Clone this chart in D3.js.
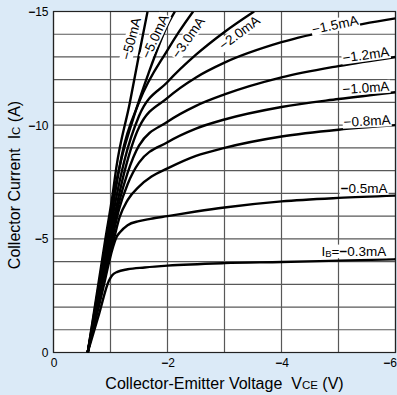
<!DOCTYPE html>
<html>
<head>
<meta charset="utf-8">
<script src="https://cdn.jsdelivr.net/npm/d3@7"></script>
<style>
  body { margin: 0; background: #dbeaf7; }
  svg { display: block; font-family: "Liberation Sans", Arial, sans-serif; }
</style>
</head>
<body>
<svg id="chart" width="397" height="395"></svg>
<script>
// IC-VCE curves, one per base current: [VCE (V), IC (A)]
const ib03 = [[-0.6,0],[-0.8,-1.7],[-0.97,-3.15],[-1.03,-3.4],[-1.12,-3.55],[-1.3,-3.66],[-1.6,-3.74],[-2,-3.82],[-3,-3.93],[-4,-3.98],[-5,-4.04],[-6,-4.1]];
const ib05 = [[-0.6,0],[-0.85,-2.6],[-1.04,-4.6],[-1.1,-5.05],[-1.17,-5.3],[-1.3,-5.6],[-1.5,-5.78],[-1.7,-5.88],[-2,-6.0],[-2.5,-6.2],[-3,-6.38],[-4,-6.65],[-5,-6.8],[-6,-6.9]];
const ib08 = [[-0.6,0],[-0.85,-3],[-1.06,-5],[-1.16,-5.95],[-1.3,-6.7],[-1.5,-7.3],[-1.72,-7.74],[-2,-8.1],[-2.5,-8.65],[-3,-9.0],[-4,-9.5],[-5,-9.8],[-6,-10.0]];
const ib10 = [[-0.6,0],[-1.03,-5],[-1.15,-6.3],[-1.3,-7.4],[-1.5,-8.35],[-2,-9.25],[-2.5,-9.85],[-3,-10.25],[-4,-10.8],[-5,-11.15],[-6,-11.45]];
const ib12 = [[-0.6,0],[-1.01,-5],[-1.15,-6.6],[-1.3,-7.9],[-1.5,-9.1],[-2,-10.15],[-2.5,-10.85],[-3,-11.35],[-4,-12.1],[-5,-12.6],[-6,-13.0]];
const ib15 = [[-0.6,0],[-0.99,-5],[-1.12,-6.6],[-1.25,-8.0],[-1.5,-9.9],[-2,-11.2],[-2.5,-12.1],[-3,-12.75],[-4,-13.65],[-5,-14.25],[-6,-14.7]];
const ib20 = [[-0.6,0],[-0.97,-5],[-1.1,-6.8],[-1.25,-8.5],[-1.5,-10.4],[-2,-11.9],[-2.5,-13.1],[-3,-14.1],[-3.52,-15]];
const ib30 = [[-0.6,0],[-0.95,-5],[-1.08,-7],[-1.2,-8.7],[-1.5,-11.0],[-2,-13.3],[-2.2,-14.1],[-2.45,-15]];
const ib50 = [[-0.6,0],[-0.93,-5],[-1.06,-7],[-1.2,-8.6],[-1.4,-10.3],[-1.67,-12.3],[-2,-14.4],[-2.13,-15]];
const ib500 = [[-0.6,0],[-0.91,-5],[-1.04,-7],[-1.1,-8.1],[-1.34,-11],[-1.5,-13.1],[-1.65,-15]];
const curves = [ib03, ib05, ib08, ib10, ib12, ib15, ib20, ib30, ib50, ib500];

// curve labels: text, anchor point [VCE, IC], rotation
const labelText = ['−50mA', '−5.0mA', '−3.0mA', '−2.0mA', '−1.5mA', '−1.2mA', '−1.0mA', '−0.8mA', '−0.5mA', 'IB=−0.3mA'];
const labelAt = [[-1.36,-13.8],[-1.78,-13.9],[-2.36,-13.85],[-3.26,-14.07],[-4.94,-14.42],[-5.48,-13.1],[-5.48,-11.65],[-5.5,-10.19],[-5.45,-7.24],[-5.27,-4.47]];
const labelAngle = [-75, -65, -55, -37, -12, -8, -4, -3, 0, 0];

const xTicks = [0, -2, -4, -6];
const yTicks = [0, -5, -10, -15];

const width = 397, height = 395;
const margin = {top: 11.5, right: 1.5, bottom: 42.5, left: 53.5};
const nb = '\u00a0';

const svg = d3.select('#chart');

const x = d3.scaleLinear().domain([0, -6]).range([margin.left, width - margin.right]);
const y = d3.scaleLinear().domain([0, -15]).range([height - margin.bottom, margin.top]);

// plot area
svg.append('rect')
  .attr('x', x(0)).attr('y', y(-15))
  .attr('width', x(-6) - x(0)).attr('height', y(0) - y(-15))
  .attr('fill', '#fff');

svg.append('clipPath').attr('id', 'plot')
  .append('rect')
  .attr('x', x(0)).attr('y', y(-15))
  .attr('width', x(-6) - x(0)).attr('height', y(0) - y(-15));

// grid
const grid = svg.append('g').attr('stroke', '#585858').attr('stroke-width', 1.2);
grid.selectAll('line.v')
  .data(x.ticks(6))
  .enter().append('line')
  .attr('class', 'v')
  .attr('x1', d => x(d)).attr('x2', d => x(d))
  .attr('y1', y(0)).attr('y2', y(-15));
grid.selectAll('line.h')
  .data(y.ticks(15))
  .enter().append('line')
  .attr('class', 'h')
  .attr('x1', x(0)).attr('x2', x(-6))
  .attr('y1', d => y(d)).attr('y2', d => y(d));

// frame
svg.append('rect')
  .attr('x', x(0)).attr('y', y(-15))
  .attr('width', x(-6) - x(0)).attr('height', y(0) - y(-15))
  .attr('fill', 'none').attr('stroke', '#222').attr('stroke-width', 1.2);

// curves
const line = d3.line()
  .x(d => x(d[0]))
  .y(d => y(d[1]))
  .curve(d3.curveMonotoneX);

svg.append('g')
  .attr('clip-path', 'url(#plot)')
  .selectAll('path')
  .data(curves)
  .enter().append('path')
  .attr('d', line)
  .attr('fill', 'none')
  .attr('stroke', '#000')
  .attr('stroke-width', 2.4)
  .attr('stroke-linejoin', 'round');

// curve labels with a white patch behind
const labels = svg.append('g')
  .selectAll('g')
  .data(labelText)
  .enter().append('g')
  .attr('transform', (d, i) => `translate(${x(labelAt[i][0])},${y(labelAt[i][1])}) rotate(${labelAngle[i]})`);

labels.each(function(d, i) {
  const g = d3.select(this);
  const t = g.append('text')
    .attr('text-anchor', 'middle')
    .attr('dy', '0.35em')
    .attr('font-size', 13.5)
    .attr('fill', '#000');
  if (d.startsWith('IB')) {
    t.append('tspan').text('I');
    t.append('tspan').attr('font-size', 9.5).attr('dy', 1.5).text('B');
    t.append('tspan').attr('dy', -1.5).text('=');
    t.append('tspan').attr('font-weight', 'bold').text('−');
    t.append('tspan').text(d.slice(4));
  } else if (d === '−0.5mA') {
    t.append('tspan').attr('font-weight', 'bold').text('−');
    t.append('tspan').text(d.slice(1));
  } else {
    t.text(d);
  }
  const b = t.node().getBBox();
  g.insert('rect', 'text')
    .attr('x', b.x - 1).attr('y', b.y + 1)
    .attr('width', b.width + 2).attr('height', b.height - 2)
    .attr('fill', '#fff');
});

// axes
function boldMinus(sel) {
  sel.selectAll('.tick text').each(function(d) {
    const t = d3.select(this);
    t.text(null);
    if (d < 0) t.append('tspan').attr('font-weight', 'bold').text('−');
    t.append('tspan').text(Math.abs(d));
  });
}

svg.append('g')
  .attr('transform', `translate(${x(0)},0)`)
  .call(d3.axisLeft(y).tickValues(yTicks).tickSize(0).tickPadding(5))
  .call(g => g.select('.domain').remove())
  .call(g => g.selectAll('text').attr('font-size', 12).attr('fill', '#000').attr('font-family', null))
  .call(boldMinus);

svg.append('g')
  .attr('transform', `translate(0,${y(0)})`)
  .call(d3.axisBottom(x).tickValues(xTicks).tickSize(0).tickPadding(6))
  .call(g => g.select('.domain').remove())
  .call(g => g.selectAll('text').attr('font-size', 12).attr('fill', '#000').attr('font-family', null))
  .call(boldMinus)
  .call(g => g.selectAll('.tick').filter(d => d === -6).select('text').attr('text-anchor', 'end').attr('x', 1));

// axis titles
const xt = svg.append('text')
  .attr('x', (x(0) + x(-6)) / 2).attr('y', 389)
  .attr('text-anchor', 'middle')
  .attr('font-size', 16);
xt.append('tspan').text('Collector-Emitter Voltage' + nb + nb + 'V');
xt.append('tspan').attr('font-size', 11.5).text('CE');
xt.append('tspan').text(nb + '(V)');

const yt = svg.append('text')
  .attr('transform', `translate(20,${(y(0) + y(-15)) / 2 + 3}) rotate(-90)`)
  .attr('text-anchor', 'middle')
  .attr('font-size', 16);
yt.append('tspan').text('Collector Current' + nb + nb + 'I');
yt.append('tspan').attr('font-size', 11.5).text('C');
yt.append('tspan').text(nb + '(A)');
</script>
</body>
</html>
